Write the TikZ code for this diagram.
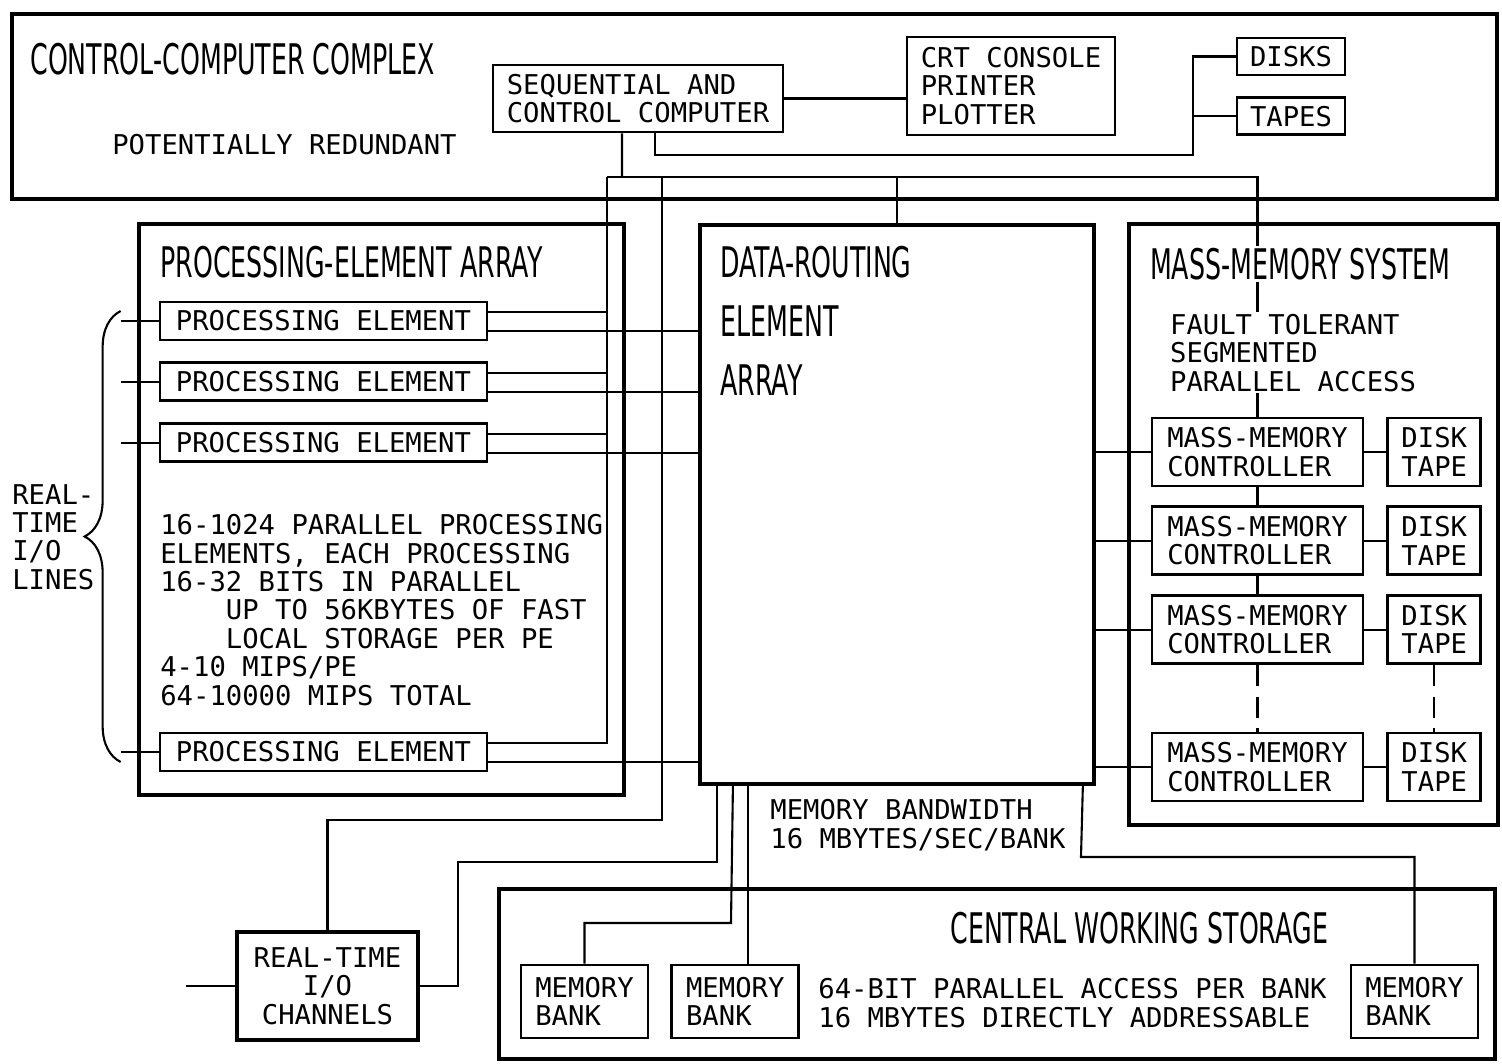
\documentclass[tikz,border=0pt]{standalone}
\usepackage{fontspec}
\newfontfamily\monofont{DejaVu Sans Mono}
\newfontfamily\titlefont[FakeStretch=0.6]{DejaVu Sans}
\usetikzlibrary{positioning,decorations.pathreplacing}

\begin{document}
\begin{tikzpicture}[
  x=0.02cm, y=-0.02cm,
  panel/.style={draw, line width=2.2pt, inner sep=0pt},
  unit/.style={draw, line width=1.6pt, align=left, inner sep=2pt, font=\monofont\fontsize{15.5}{16.2}\selectfont},
  note/.style={align=left, inner sep=0pt, font=\monofont\fontsize{15.5}{16.2}\selectfont},
  heading/.style={align=left, inner sep=0pt, font=\titlefont\fontsize{24}{33.4}\selectfont},
  link/.style={line width=1.2pt},
  pebox/.style={unit, minimum width=6.54cm, minimum height=0.76cm},
  ctlbox/.style={unit, minimum width=4.22cm, minimum height=1.36cm},
  drivebox/.style={unit, minimum width=1.86cm, minimum height=1.36cm},
  bankbox/.style={unit, minimum width=2.54cm, minimum height=1.46cm}
]
  \useasboundingbox (0,0) rectangle (1502,1063);

  \node[panel, anchor=north west, minimum width=29.7cm, minimum height=3.7cm] (ccc) at (10,12) {};
  \node[heading, anchor=north west] (ccctitle) at (30,43) {CONTROL-COMPUTER COMPLEX};
  \node[note, anchor=north west] (redund) at (112,134) {POTENTIALLY REDUNDANT};
  \node[unit, minimum width=5.8cm, minimum height=1.34cm] (seq) at (638,98.5) {SEQUENTIAL AND\\CONTROL COMPUTER};
  \node[unit, minimum width=4.16cm, minimum height=1.96cm] (crt) at (1011,86) {CRT CONSOLE\\PRINTER\\PLOTTER};
  \node[unit, minimum width=2.16cm, minimum height=0.74cm] (disks) at (1291,56.5) {DISKS};
  \node[unit, minimum width=2.16cm, minimum height=0.74cm, below=0.4cm of disks] (tapes) {TAPES};

  \node[panel, anchor=north west, minimum width=9.7cm, minimum height=11.42cm] (pea) at (137,222) {};
  \node[heading, anchor=north west] (peatitle) at (160,246) {PROCESSING-ELEMENT ARRAY};
  \node[pebox] (pe1) at (323.5,321) {PROCESSING ELEMENT};
  \node[pebox, below=0.4cm of pe1] (pe2) {PROCESSING ELEMENT};
  \node[pebox, below=0.4cm of pe2] (pe3) {PROCESSING ELEMENT};
  \node[pebox] (pe4) at (323.5,752) {PROCESSING ELEMENT};
  \node[note, anchor=north west] (petext) at (160,514) {16-1024 PARALLEL PROCESSING\\ELEMENTS, EACH PROCESSING\\16-32 BITS IN PARALLEL\\\hphantom{0000}UP TO 56KBYTES OF FAST\\\hphantom{0000}LOCAL STORAGE PER PE\\4-10 MIPS/PE\\64-10000 MIPS TOTAL};
  \node[note, anchor=west] (rtlines) at (12,537) {REAL-\\TIME\\I/O\\LINES};

  \node[panel, anchor=north west, minimum width=7.88cm, minimum height=11.18cm] (dre) at (698,223) {};
  \node[heading, anchor=north west] (dretitle) at (720,246) {DATA-ROUTING\\ELEMENT\\ARRAY};

  \node[panel, anchor=north west, minimum width=7.38cm, minimum height=12.02cm] (mms) at (1127,222) {};
  \node[ctlbox] (mmc1) at (1257.5,452) {MASS-MEMORY\\CONTROLLER};
  \node[ctlbox, below=0.36cm of mmc1] (mmc2) {MASS-MEMORY\\CONTROLLER};
  \node[ctlbox, below=0.36cm of mmc2] (mmc3) {MASS-MEMORY\\CONTROLLER};
  \node[ctlbox] (mmc4) at (1257.5,767) {MASS-MEMORY\\CONTROLLER};
  \foreach \i in {1,...,4}
    \node[drivebox, right=0.44cm of mmc\i] (dt\i) {DISK\\TAPE};

  \node[panel, anchor=north west, minimum width=19.92cm, minimum height=3.4cm] (cws) at (497,887) {};
  \node[heading, anchor=north west] (cwstitle) at (950,912) {CENTRAL WORKING STORAGE};
  \node[bankbox] (mb1) at (584.5,1001.5) {MEMORY\\BANK};
  \node[bankbox, right=0.42cm of mb1] (mb2) {MEMORY\\BANK};
  \node[bankbox] (mb3) at (1414.5,1001.5) {MEMORY\\BANK};
  \node[note, anchor=north west] (cwstext) at (818,978) {64-BIT PARALLEL ACCESS PER BANK\\16 MBYTES DIRECTLY ADDRESSABLE};
  \node[note, anchor=north west] (bandw) at (770,799) {MEMORY BANDWIDTH\\16 MBYTES/SEC/BANK};

  \node[unit, align=center, line width=2.2pt, minimum width=3.62cm, minimum height=2.16cm] (rtio) at (327.5,986) {REAL-TIME\\I/O\\CHANNELS};

  \coordinate (busL) at (607,177);
  \coordinate (busM) at (622,177);
  \coordinate (busIO) at (662,177);
  \coordinate (ioturn) at (662,820);
  \coordinate (stor) at (1193,155);
  \coordinate (iojog) at (458,862);
  \coordinate (mbjog) at (731,923);
  \coordinate (mb3jog) at (1081,857);

  \draw[link] (seq.east) -- (seq.east -| crt.west);
  \draw[link] ([xshift=0.34cm]seq.south) |- (stor) |- (disks.west);
  \draw[link] (stor |- tapes.west) -- (tapes.west);
  \draw[link] ([xshift=-0.32cm]seq.south) -- (busM);
  \draw[link] (busL) -| (mmc1.north);
  \draw[link] (dre.north |- busL) -- (dre.north);
  \draw[link] (busL) |- ([yshift=0.18cm]pe4.east);
  \foreach \i in {1,2,3}
    \draw[link] ([yshift=0.18cm]pe\i.east) -- ([yshift=0.18cm]pe\i.east -| busL);
  \foreach \i in {1,...,4} {
    \draw[link] ([yshift=-0.2cm]pe\i.east) -- ([yshift=-0.2cm]pe\i.east -| dre.west);
    \draw[link] (pe\i.west) -- ++(-0.76cm,0) coordinate (io\i);
  }
  \draw[link, decorate, decoration={brace, amplitude=0.72cm}] ([yshift=-0.2cm]io4) -- ([yshift=0.2cm]io1);

  \draw[link] (busIO) -- (ioturn) -| (rtio.north);
  \draw[link] ([xshift=-3.6cm]dre.south) |- (iojog) |- (rtio.east);
  \draw[link] (rtio.west) -- ++(-0.98cm,0) coordinate (ioext);
  \draw[link] ([xshift=-3.28cm]dre.south) -- (mbjog) -| (mb1.north);
  \draw[link] ([xshift=-2.98cm]dre.south) -- ([xshift=-2.98cm]dre.south |- mb2.north);
  \draw[link] ([xshift=3.72cm]dre.south) -- (mb3jog) -| (mb3.north);

  \foreach \i in {1,...,4} {
    \draw[link] (mmc\i.west -| dre.east) -- (mmc\i.west);
    \draw[link] (mmc\i.east) -- (dt\i.west);
  }
  \draw[link] (mmc1.south) -- (mmc2.north);
  \draw[link] (mmc2.south) -- (mmc3.north);
  \draw[link, dash pattern=on 12pt off 6pt] (mmc3.south) -- (mmc4.north);
  \draw[link, dash pattern=on 12pt off 6pt] (dt3.south) -- (dt4.north);

  \node[heading, anchor=north west, fill=white, inner sep=1pt] (mmstitle) at (1148,246) {MASS-MEMORY SYSTEM};
  \node[note, anchor=north west, fill=white, inner sep=1pt] (mmstext) at (1168,312) {FAULT TOLERANT\\SEGMENTED\\PARALLEL ACCESS};
\end{tikzpicture}
\end{document}
